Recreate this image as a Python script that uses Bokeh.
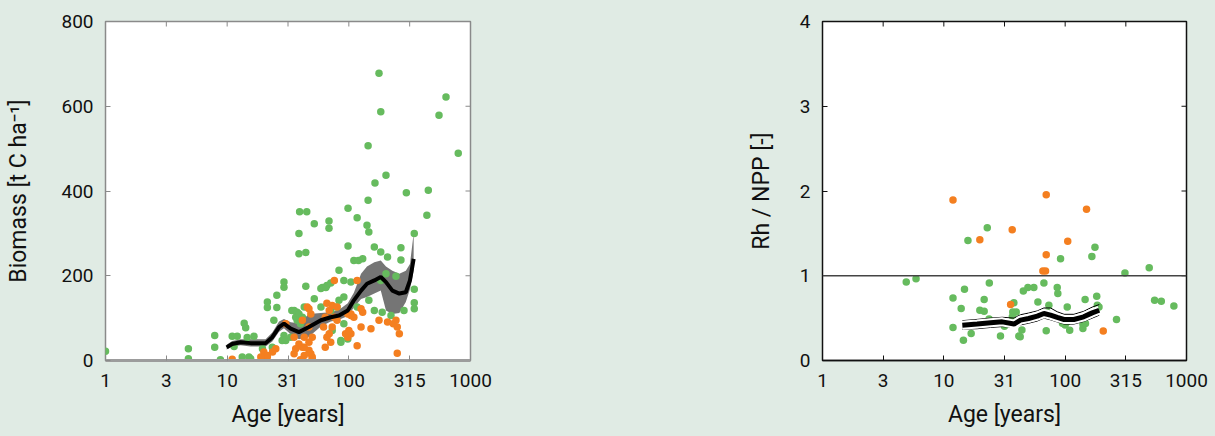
import math
from bokeh.plotting import figure
from bokeh.layouts import row
from bokeh.models import FixedTicker, CustomJSTickFormatter, Span
from bokeh.embed import file_html
from bokeh.resources import INLINE

# ---------------- data ----------------
x_ticks = [1, 10 ** 0.5, 10, 10 ** 1.5, 100, 10 ** 2.5, 1000]
x_tick_labels = ["1", "3", "10", "31", "100", "315", "1000"]
bio_y_ticks = [0, 200, 400, 600, 800]
rh_y_ticks = [0, 1, 2, 3, 4]

bio_green_age = [1.0, 4.8, 4.8, 7.9, 7.9, 8.8, 11, 12.1, 11.4, 13.8, 14.2, 14.6, 16.6, 15.1, 15.6,
                 19.5, 21.4, 21.4, 25.6, 25.6, 29.3, 29.3, 24.2, 29.3, 30.3, 34, 37.6, 36.6, 37.6,
                 38.9, 39.4, 45.1, 38.9, 44.3, 52, 44.3, 60.6, 68.7, 68.7, 98.5, 117, 98.5, 83,
                 144, 177, 183, 164, 202, 144, 141, 146, 297, 450, 438, 551, 629, 793, 345, 268,
                 268, 208, 162, 183, 110, 120, 130, 345, 345, 345, 284, 244, 183, 202, 66, 91,
                 104, 91, 43, 52, 222, 188, 86, 73, 91, 40, 35.5, 38.9, 41.5, 58.9, 64.7, 71,
                 146, 162, 117, 80, 83, 71, 59, 33.3, 28.3, 23.5, 98, 86, 13.3]
bio_green_val = [22, 28, 4, 59, 31, 2, 57, 57, 33, 88, 77, 54, 57, 8, 4,
                 28, 138, 125, 125, 154, 185, 173, 95, 59, 47, 118, 114, 102, 95,
                 300, 351, 351, 252, 255, 323, 175, 172, 329, 312, 359, 337, 270, 213,
                 507, 678, 587, 419, 437, 378, 319, 303, 396, 402, 343, 579, 622, 489, 300, 266,
                 237, 244, 268, 256, 236, 236, 240, 168, 136, 122, 118, 199, 189, 205, 177, 189,
                 185, 150, 126, 146, 106, 114, 47, 71, 87, 87, 118, 110, 102, 170, 172, 183,
                 142, 118, 126, 126, 142, 118, 126, 55, 47, 31, 51, 43, 8]

bio_orange_age = [30.3, 25.1, 23.6, 20, 21.4, 11, 45.5, 76, 117, 66, 73, 80, 69, 64, 76, 80, 73,
                  62, 69, 48.7, 41.5, 47, 43, 50, 41.5, 47, 50, 104, 110, 130, 126, 104, 98,
                  126, 152, 117, 177, 208, 232, 250, 260, 244, 250, 35.5, 38.9, 36.6, 43, 47,
                  35.5, 43, 48.7, 40, 50, 20, 21.4, 18.9, 66, 71, 64, 47, 98, 104, 94, 100]
bio_orange_val = [87, 28, 20, 8, 9, 3, 126, 189, 189, 135, 130, 126, 118, 102, 102, 95, 79,
                  79, 63, 110, 95, 79, 55, 55, 31, 24, 8, 110, 102, 114, 122, 63, 55,
                  79, 75, 35, 95, 91, 87, 79, 63, 95, 17, 55, 39, 28, 31, 43,
                  16, 12, 16, 2, 4, 20, 12, 8, 55, 43, 31, 122, 110, 106, 63, 71]

bio_line_age = [9.9, 11, 12.9, 15.6, 20.7, 23.5, 26.7, 29.3, 33.3, 38.9, 47, 58.9, 71, 83, 98,
                110, 126, 141, 162, 183, 202, 228, 260, 294, 318, 341]
bio_mean = [31, 39, 43, 41, 41, 55, 79, 87, 75, 67, 79, 95, 102, 106, 118,
            142, 165, 181, 189, 197, 185, 165, 158, 161, 189, 240]
bio_upper = [37, 46, 50, 50, 50, 66, 92, 98, 90, 88, 110, 112, 114, 120, 135,
             160, 205, 222, 232, 236, 222, 212, 205, 212, 228, 300]
bio_lower = [26, 33, 36, 33, 33, 45, 68, 76, 62, 50, 56, 80, 92, 96, 105,
             125, 145, 150, 158, 165, 118, 110, 112, 138, 168, 212]

rh_green_age = [4.9, 5.9, 11.9, 11.9, 13.9, 14.8, 15.8, 14.5, 16.8, 19.8, 21.5, 21.5, 22.8, 23.7,
                23.6, 29.3, 31.6, 37.8, 39.5, 37, 36.7, 41.5, 44, 45.2, 49.3, 55.2, 59.6, 66.8,
                69.8, 73.4, 86, 87, 91.6, 104, 109, 95, 100, 140, 140, 146, 166, 176, 182, 185,
                265, 311, 493, 546, 620, 787, 42.6, 70.6, 147, 184, 190, 104]
rh_green_val = [0.926, 0.966, 0.738, 0.39, 0.613, 0.84, 1.416, 0.24, 0.32, 0.593, 0.58, 0.72, 1.565, 0.914,
                0.49, 0.288, 0.405, 0.68, 0.573, 0.573, 0.515, 0.288, 0.36, 0.82, 0.86, 0.86, 0.69, 0.914,
                0.35, 0.652, 0.86, 0.79, 1.2, 0.632, 0.358, 0.44, 0.42, 0.378, 0.43, 0.72, 1.228, 1.337, 0.758, 0.632,
                0.484, 1.032, 1.095, 0.711, 0.70, 0.644, 0.28, 0.573, 0.437, 0.652, 0.632, 0.456]

rh_orange_age = [11.9, 19.8, 36.6, 35.5, 69.8, 69.8, 65.5, 68.9, 105, 150, 206]
rh_orange_val = [1.894, 1.424, 1.542, 0.66, 1.957, 1.247, 1.055, 1.055, 1.408, 1.784, 0.347]

rh_line_age = [14.2, 18.8, 24.3, 30.3, 37.9, 42.8, 50, 58.9, 66.8, 75.7, 86, 98, 118, 142, 167, 191]
rh_mean = [0.417, 0.43, 0.445, 0.456, 0.43, 0.476, 0.496, 0.523, 0.555, 0.535, 0.508, 0.484, 0.484,
           0.515, 0.562, 0.593]
rh_upper = [0.47, 0.485, 0.5, 0.51, 0.5, 0.54, 0.56, 0.585, 0.62, 0.62, 0.575, 0.545, 0.545, 0.58,
            0.63, 0.66]
rh_lower = [0.37, 0.375, 0.39, 0.4, 0.39, 0.42, 0.44, 0.465, 0.5, 0.48, 0.455, 0.43, 0.43, 0.46,
            0.5, 0.535]
rh_ref = 1.0

# ---------------- style ----------------
BG = "#e0ebe4"
GREEN = "#66bb5e"
ORANGE = "#f47f20"
FONT = "Roboto"
TICK_FS = "19px"
LABEL_FS = "23px"


def x_formatter():
    return CustomJSTickFormatter(args=dict(labels=x_tick_labels), code="""
        const i = Math.round(2 * Math.log10(tick));
        return labels[i];
    """)


def make_fig(width, mb_left, mb_right, y_end, y_ticks, ylabel, frame_col, ylab_standoff):
    p = figure(width=width, height=436, x_axis_type="log", x_range=(1, 1000), y_range=(0, y_end),
               output_backend="svg", toolbar_location=None,
               min_border_left=mb_left, min_border_right=mb_right,
               min_border_top=21, min_border_bottom=76)
    p.background_fill_color = "white"
    p.border_fill_color = BG
    p.outline_line_color = frame_col
    p.outline_line_width = 1.5
    p.grid.visible = False

    for ax in (p.xaxis[0], p.yaxis[0]):
        ax.major_tick_in = 5
        ax.major_tick_out = 0
        ax.minor_tick_line_color = None
        ax.major_tick_line_color = frame_col
        ax.major_label_text_font = FONT
        ax.major_label_text_font_size = TICK_FS
        ax.major_label_text_color = "#111111"
        ax.axis_label_text_font = FONT
        ax.axis_label_text_font_size = LABEL_FS
        ax.axis_label_text_font_style = "normal"
        ax.axis_label_text_color = "#111111"
    xa = p.xaxis[0]
    xa.ticker = FixedTicker(ticks=x_ticks)
    xa.formatter = x_formatter()
    xa.major_label_standoff = 13
    xa.axis_label = "Age [years]"
    xa.axis_label_standoff = 11
    ya = p.yaxis[0]
    ya.ticker = FixedTicker(ticks=y_ticks)
    ya.major_label_standoff = 12
    ya.axis_label = ylabel
    ya.axis_label_standoff = ylab_standoff
    ya.axis_line_color = None

    # inward ticks on the top and right edges of the frame
    p.ray(x=x_ticks[1:-1], y=[y_end] * (len(x_ticks) - 2), length=5, length_units="screen",
          angle=-math.pi / 2, line_color=frame_col, line_width=1)
    p.ray(x=[1000] * (len(y_ticks) - 2), y=y_ticks[1:-1], length=5, length_units="screen",
          angle=math.pi, line_color=frame_col, line_width=1)
    return p


# ---------------- left panel ----------------
p1 = make_fig(608, 105, 138, 800, bio_y_ticks, "Biomass [t C ha\u207b\u00b9]", "#8a8a8a", 26)
p1.xaxis[0].axis_line_color = "#9c9c9c"
p1.xaxis[0].axis_line_width = 3
p1.varea(x=bio_line_age, y1=bio_lower, y2=bio_upper, fill_color="#6e6e6e", fill_alpha=0.95)
p1.scatter(bio_green_age, bio_green_val, size=7.5, fill_color=GREEN, line_color=None)
p1.scatter(bio_orange_age, bio_orange_val, size=7.5, fill_color=ORANGE, line_color=None)
p1.line(bio_line_age, bio_mean, line_color="black", line_width=4)

# ---------------- right panel ----------------
p2 = make_fig(607, 214, 29, 4, rh_y_ticks, "Rh / NPP [-]", "#111111", 22)
p2.xaxis[0].axis_line_color = "#111111"
p2.xaxis[0].axis_line_width = 1.5
p2.add_layout(Span(location=rh_ref, dimension="width", line_color="#444444", line_width=1.5))
p2.scatter(rh_green_age, rh_green_val, size=7.5, fill_color=GREEN, line_color=None)
p2.scatter(rh_orange_age, rh_orange_val, size=7.5, fill_color=ORANGE, line_color=None)
p2.line(rh_line_age, rh_upper, line_color="black", line_width=1)
p2.line(rh_line_age, rh_lower, line_color="black", line_width=1)
p2.line(rh_line_age, rh_mean, line_color="white", line_width=9)
p2.line(rh_line_age, rh_mean, line_color="black", line_width=5)

layout = row(p1, p2)
html = file_html(layout, INLINE)
html = html.replace("</head>", "<style>html,body{background:%s;}</style></head>" % BG, 1)
open("out.html", "w").write(html)
